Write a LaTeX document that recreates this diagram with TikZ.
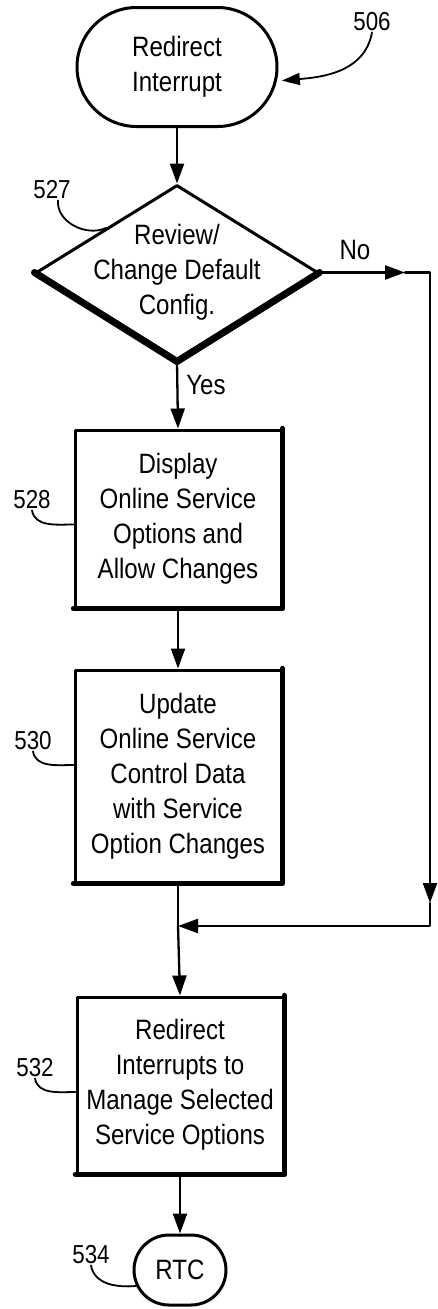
\documentclass[tikz,border=0pt]{standalone}
\usepackage{fontspec}
\setmainfont{Liberation Sans}[FakeStretch=0.86]
\usetikzlibrary{shapes.geometric,shapes.misc,arrows.meta}

\begin{document}
\begin{tikzpicture}[x=1pt,y=-1pt, line join=round, line cap=round, font=\fontsize{28}{35}\selectfont,
	flow/.style={line width=2.3pt,-{Triangle[length=20pt,width=14pt]}},
	edge/.style={line width=2.3pt},
	box/.style={draw, line width=3pt, minimum width=206pt, minimum height=177pt, inner sep=0pt, align=center},
	term/.style={draw, rounded rectangle, line width=3pt, inner sep=0pt, align=center},
	heavy/.style={line width=5.5pt},
	lead/.style={line width=1.8pt},
	num/.style={inner sep=1pt, font=\fontsize{26}{30}\selectfont}]
	\useasboundingbox (0,0) rectangle (437,1309);
	\node[term, minimum width=200pt, minimum height=119pt] (start) at (177,67) {Redirect\\Interrupt};
	\node[draw, diamond, line width=3pt, minimum width=282pt, minimum height=175pt, inner sep=0pt,
		label={[align=center]center:Review/\\Change Default\\Config.}] (chk) at (177,272.5) {};
	\node[box] (disp) at (178,518.5) {Display\\Online Service\\Options and\\Allow Changes};
	\node[box, minimum height=212pt] (upd) at (178,776) {Update\\Online Service\\Control Data\\with Service\\Option Changes};
	\node[box, minimum height=176pt] (redir) at (180,1085) {Redirect\\Interrupts to\\Manage Selected\\Service Options};
	\node[term, minimum width=92pt, minimum height=70pt] (rtc) at (180,1270) {RTC};
	\coordinate (noarr) at (405,272.5);
	\coordinate (nocorner) at (430,272.5);
	\coordinate (downarr) at (430,903);
	\coordinate (mergeR) at (430,926);
	\coordinate (merge) at (178,926);
	\draw[heavy, line width=7pt] (chk.west)--(chk.south)--(chk.east);
	\foreach \n in {disp,upd,redir}
		\draw[heavy] (\n.north east)--(\n.south east)--(\n.south west);
	\draw[flow] (start.south)--(chk.north);
	\draw[flow] (chk.south)--(disp.north);
	\draw[flow] (disp.south)--(upd.north);
	\draw[edge] (upd.south)--(merge);
	\draw[flow] (merge)--(redir.north);
	\draw[flow] (redir.south)--(rtc.north);
	\draw[flow] (chk.east)--(noarr);
	\draw[flow] (noarr)--(nocorner)--(downarr);
	\draw[flow] (downarr)--(mergeR)--(merge);
	\node (yes) at (206,385) {Yes};
	\node (no) at (355,250) {No};
	\node[num] (n506) at (372,22) {506};
	\node[num] (n527) at (52,190) {527};
	\node[num] (n528) at (32,500) {528};
	\node[num] (n530) at (33,741) {530};
	\node[num] (n532) at (35,1068) {532};
	\node[num] (n534) at (91,1255) {534};
	\draw[lead, -{Triangle[length=18pt,width=12pt]}, shorten >=5pt] (n506.south) to[out=-100,in=5] (start.-8);
	\draw[lead] (n527.-60) to[out=-95,in=205] (chk.north west);
	\draw[lead] (n528.south) to[out=-80,in=180] ([yshift=-6pt]disp.west);
	\draw[lead] (n530.south) to[out=-80,in=180] ([yshift=11pt]upd.west);
	\draw[lead] (n532.south) to[out=-80,in=180] ([yshift=-7pt]redir.west);
	\draw[lead] (n534.south) to[out=-80,in=185] (rtc.200);
\end{tikzpicture}
\end{document}
